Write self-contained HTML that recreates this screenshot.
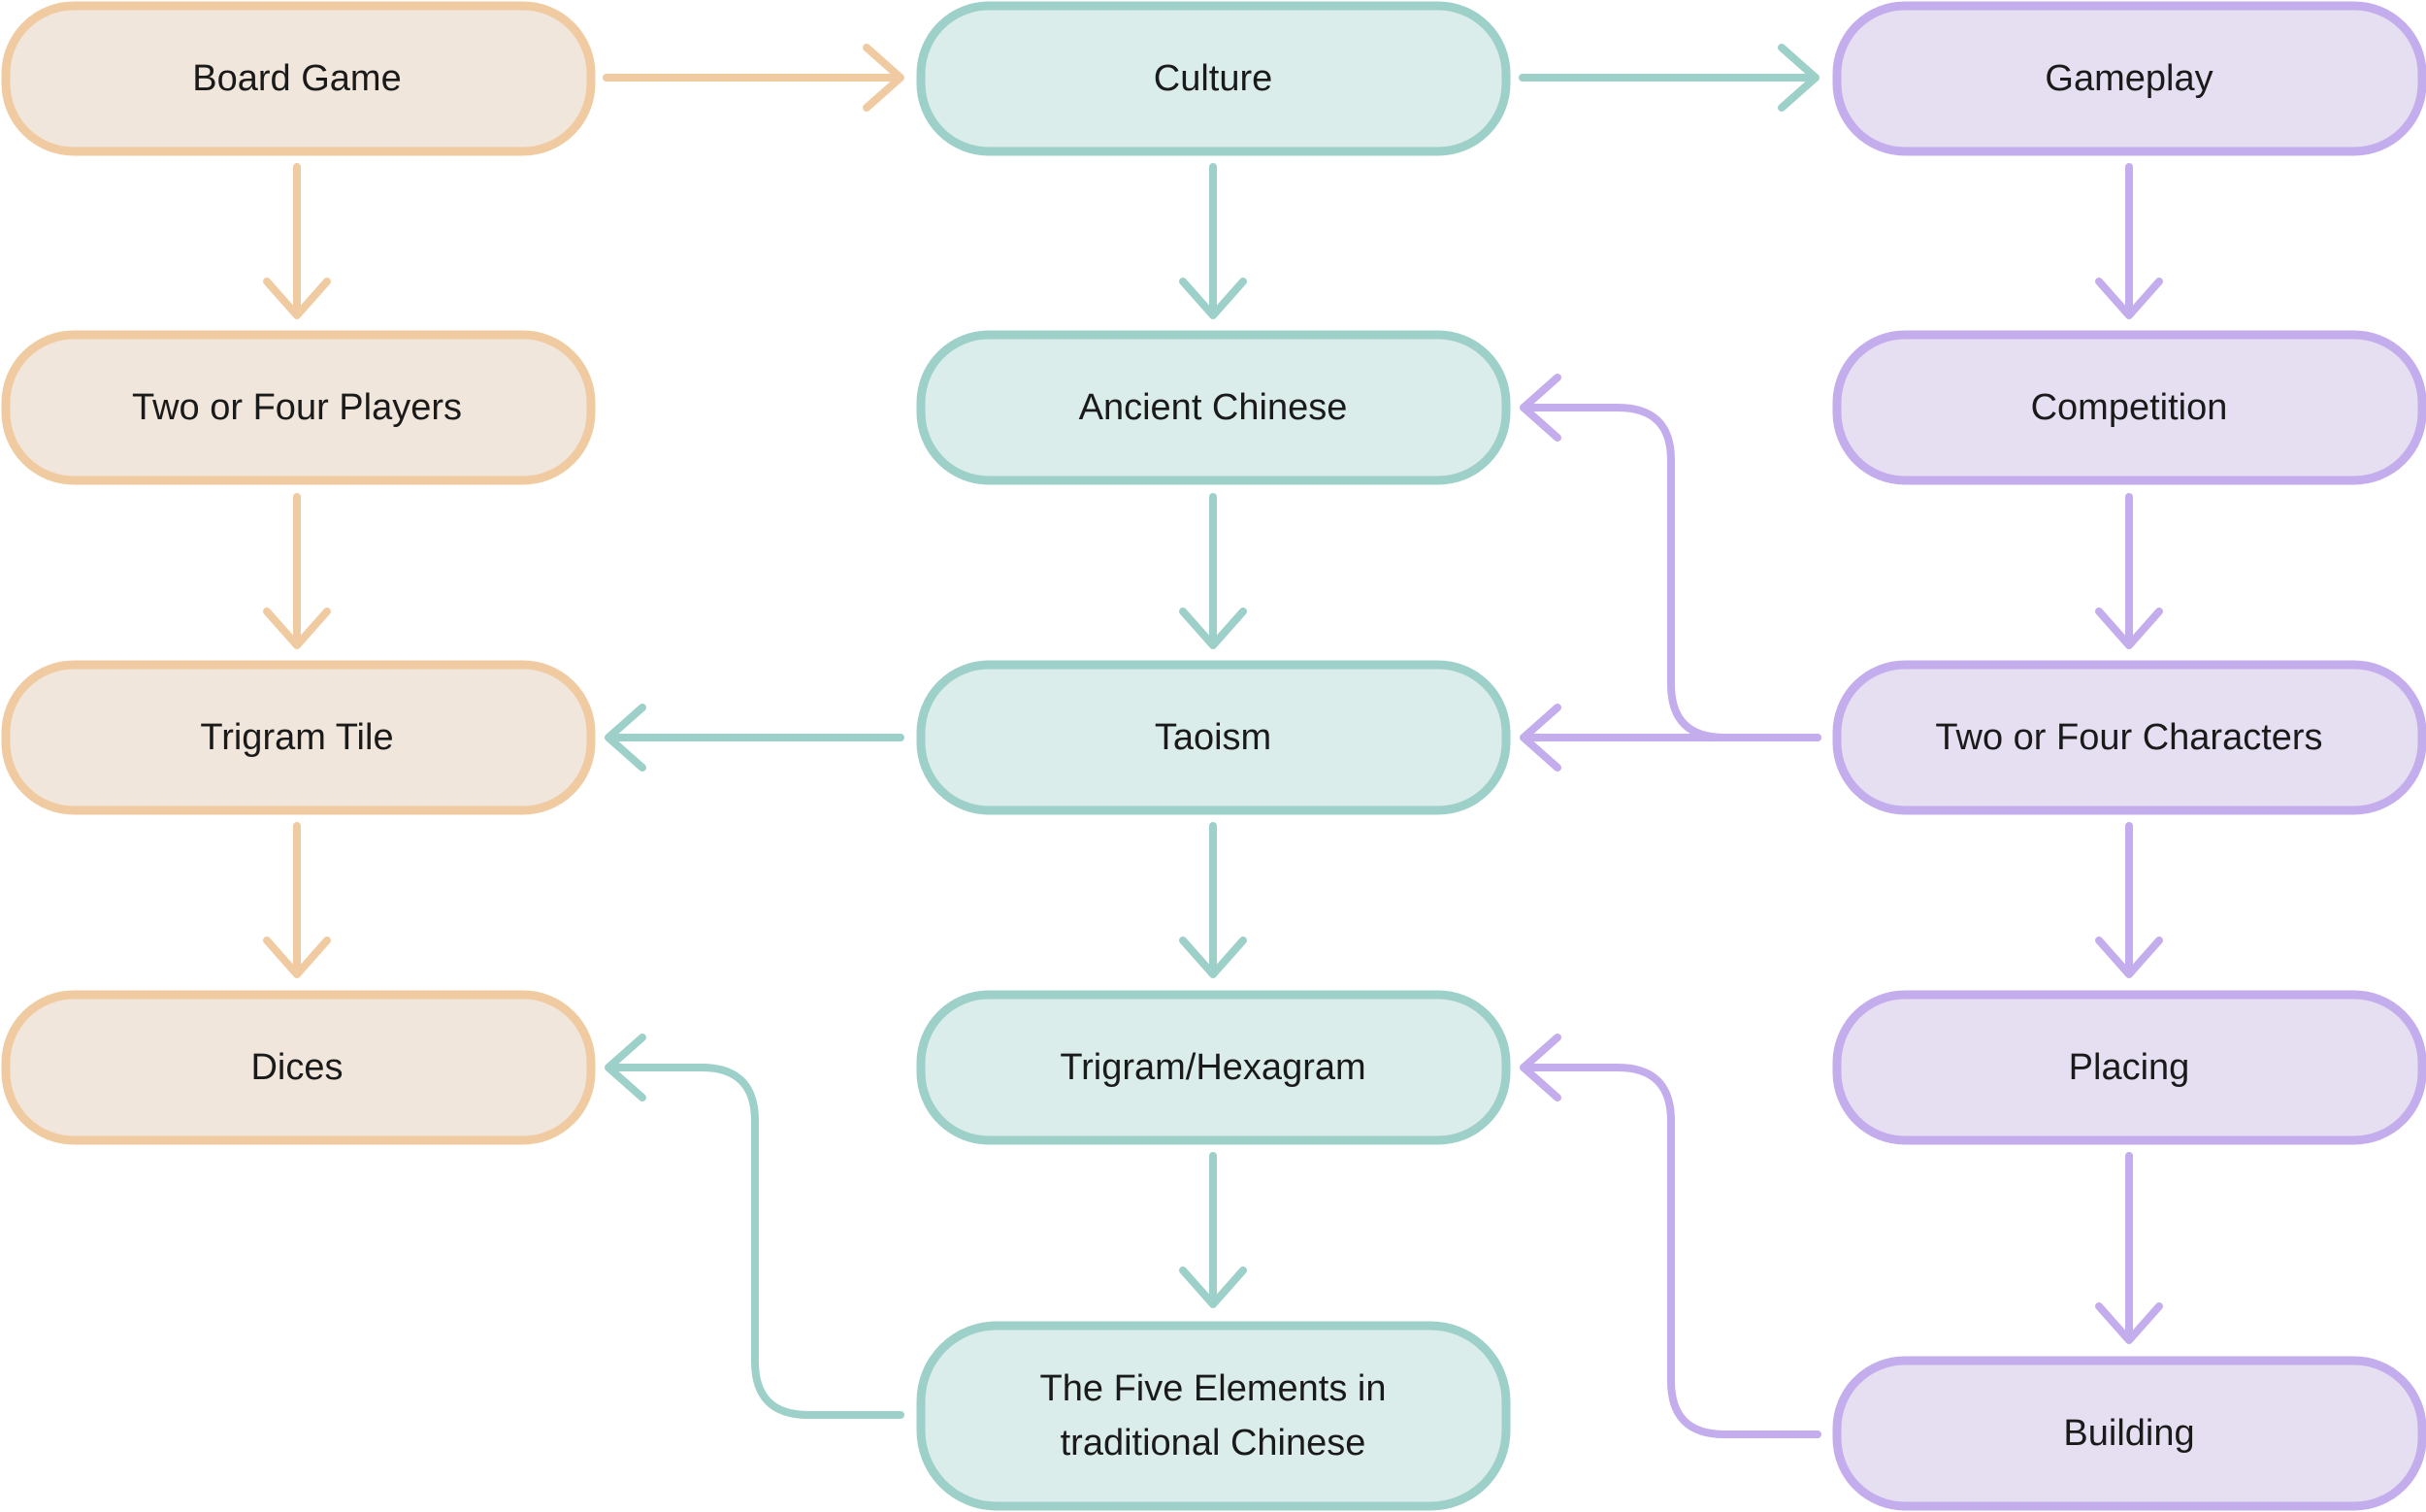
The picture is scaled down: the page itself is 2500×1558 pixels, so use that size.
<!DOCTYPE html>
<html><head><meta charset="utf-8"><style>
html,body{margin:0;padding:0;background:#fff;}
svg{display:block;}
text{font-family:"Liberation Sans",sans-serif;font-size:38px;fill:#1a1a1a;text-anchor:middle;dominant-baseline:central;}
</style></head><body>
<svg width="2500" height="1558" viewBox="0 0 2500 1558" xmlns="http://www.w3.org/2000/svg">
<g stroke-width="9">
 <g fill="#F1E6DB" stroke="#F0CBA1">
  <rect x="6" y="6" width="603" height="150" rx="70"/>
  <rect x="6" y="345" width="603" height="150" rx="70"/>
  <rect x="6" y="685" width="603" height="150" rx="70"/>
  <rect x="6" y="1025" width="603" height="150" rx="70"/>
 </g>
 <g fill="#DAEDEA" stroke="#9DD0C8">
  <rect x="949" y="6" width="603" height="150" rx="70"/>
  <rect x="949" y="345" width="603" height="150" rx="70"/>
  <rect x="949" y="685" width="603" height="150" rx="70"/>
  <rect x="949" y="1025" width="603" height="150" rx="70"/>
  <rect x="949" y="1366" width="603" height="186" rx="78"/>
 </g>
 <g fill="#E6DFF2" stroke="#C4ADEC">
  <rect x="1893" y="6" width="603" height="150" rx="70"/>
  <rect x="1893" y="345" width="603" height="150" rx="70"/>
  <rect x="1893" y="685" width="603" height="150" rx="70"/>
  <rect x="1893" y="1025" width="603" height="150" rx="70"/>
  <rect x="1893" y="1402" width="603" height="150" rx="70"/>
 </g>
</g>
<g fill="none" stroke-width="8" stroke-linecap="round" stroke-linejoin="round">
 <g stroke="#F0CBA1">
  <path d="M625 80H928M893 49L928 80L893 111"/>
  <path d="M306 172V325M275 290L306 325L337 290"/>
  <path d="M306 512V665M275 630L306 665L337 630"/>
  <path d="M306 851V1004M275 969L306 1004L337 969"/>
 </g>
 <g stroke="#9DD0C8">
  <path d="M1569 80H1871M1836 49L1871 80L1836 111"/>
  <path d="M1250 172V325M1219 290L1250 325L1281 290"/>
  <path d="M1250 512V665M1219 630L1250 665L1281 630"/>
  <path d="M1250 851V1004M1219 969L1250 1004L1281 969"/>
  <path d="M1250 1191V1344M1219 1309L1250 1344L1281 1309"/>
  <path d="M928 760H627M662 729L627 760L662 791"/>
  <path d="M928 1458H833Q778 1458 778 1403V1155Q778 1100 723 1100H627M662 1069L627 1100L662 1131"/>
 </g>
 <g stroke="#C4ADEC">
  <path d="M2194 172V325M2163 290L2194 325L2225 290"/>
  <path d="M2194 512V665M2163 630L2194 665L2225 630"/>
  <path d="M2194 851V1004M2163 969L2194 1004L2225 969"/>
  <path d="M2194 1191V1381M2163 1346L2194 1381L2225 1346"/>
  <path d="M1873 760H1570M1605 729L1570 760L1605 791"/>
  <path d="M1873 760H1777Q1722 760 1722 705V474Q1722 420 1667 420H1570M1605 389L1570 420L1605 451"/>
  <path d="M1873 1478H1777Q1722 1478 1722 1423V1155Q1722 1100 1667 1100H1570M1605 1069L1570 1100L1605 1131"/>
 </g>
</g>
<text x="306" y="81">Board Game</text>
<text x="306" y="420">Two or Four Players</text>
<text x="306" y="760">Trigram Tile</text>
<text x="306" y="1100">Dices</text>
<text x="1250" y="81">Culture</text>
<text x="1250" y="420">Ancient Chinese</text>
<text x="1250" y="760">Taoism</text>
<text x="1250" y="1100">Trigram/Hexagram</text>
<text x="1250" y="1431">The Five Elements in</text>
<text x="1250" y="1487">traditional Chinese</text>
<text x="2194" y="81">Gameplay</text>
<text x="2194" y="420">Competition</text>
<text x="2194" y="760">Two or Four Characters</text>
<text x="2194" y="1100">Placing</text>
<text x="2194" y="1477">Building</text>
</svg>
</body></html>
